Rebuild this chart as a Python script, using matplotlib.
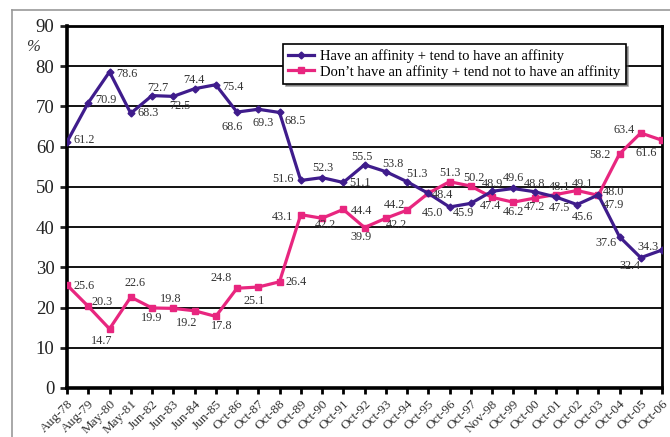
import matplotlib
matplotlib.use("Agg")
import matplotlib.pyplot as plt
from matplotlib.lines import Line2D

# survey dates (category axis)
dates = ["Aug-78", "Aug-79", "May-80", "May-81", "Jun-82", "Jun-83", "Jun-84",
         "Jun-85", "Oct-86", "Oct-87", "Oct-88", "Oct-89", "Oct-90", "Oct-91",
         "Oct-92", "Oct-93", "Oct-94", "Oct-95", "Oct-96", "Oct-97", "Nov-98",
         "Oct-99", "Oct-00", "Oct-01", "Oct-02", "Oct-03", "Oct-04", "Oct-05",
         "Oct-06"]

affinity = [61.2, 70.9, 78.6, 68.3, 72.7, 72.5, 74.4, 75.4, 68.6, 69.3, 68.5,
            51.6, 52.3, 51.1, 55.5, 53.8, 51.3, 48.4, 45.0, 45.9, 48.9, 49.6,
            48.8, 47.5, 45.6, 48.0, 37.6, 32.4, 34.3]
no_affinity = [25.6, 20.3, 14.7, 22.6, 19.9, 19.8, 19.2, 17.8, 24.8, 25.1, 26.4,
               43.1, 42.2, 44.4, 39.9, 42.2, 44.2, 48.4, 51.3, 50.2, 47.4, 46.2,
               47.2, 48.1, 49.1, 47.9, 58.2, 63.4, 61.6]

series_names = ["Have an affinity + tend to have an affinity",
                "Don\u2019t have an affinity + tend not to have an affinity"]

# label placement (pixel offsets of label centre, screen y down)
aff_offsets = [(17, -2), (18, -3), (17, 2), (17, 0), (6, -8), (7, 10), (-1, -9),
               (17, 2), (-5, 15), (5, 14), (16, 9), (-18, -1), (1, -10), (17, 1),
               (-3, -8), (7, -8), (10, -8), (14, 2), (-17, 6), (-7, 10), (0, -7),
               (0, -10), (0, -8), (4, 11), (5, 12), (15, -3), (-13, 6), (-11, 8),
               (-14, -3)]
no_offsets = [(17, 1), (14, -4), (-8, 12), (4, -14), (0, 10), (-3, -9), (-8, 12),
              (6, 10), (-16, -10), (-4, 14), (17, 0), (-18, 2), (3, 7), (18, 2),
              (-3, 9), (11, 7), (-13, -5), None, (0, -9), (3, -8), (-1, 9),
              (0, 10), (0, 9), (4, -8), (6, -7), (15, 10), (-20, 1), (-17, -3),
              (-16, 13)]

PURPLE = "#3f1c8c"
PINK = "#e8267f"
SERIF = ["Liberation Serif", "DejaVu Serif"]

plt.rcParams["font.family"] = SERIF

fig = plt.figure(figsize=(6.7, 4.37), dpi=100)
ax = fig.add_axes([67 / 670, 1 - 388 / 437, 595 / 670, 362 / 437])

x = list(range(len(dates)))
ax.plot(x, affinity, color=PURPLE, lw=2.3, marker="D", ms=3.5,
        label=series_names[0], zorder=4)
ax.plot(x, no_affinity, color=PINK, lw=2.3, marker="s", ms=4,
        label=series_names[1], zorder=3)

for vals, offs in ((affinity, aff_offsets), (no_affinity, no_offsets)):
    for i, v in enumerate(vals):
        if offs[i] is None:
            continue
        dx, dy = offs[i]
        ax.annotate(f"{v:.1f}", (i, v), xytext=(dx, -dy), textcoords="offset pixels",
                    ha="center", va="center", fontsize=8.8, color="#333333", zorder=5)

ax.set_xlim(0, len(dates) - 1)
ax.set_ylim(0, 90)
ax.set_yticks(range(0, 91, 10))
ax.set_xticks(x)
ax.set_xticklabels(dates, rotation=45, ha="right", rotation_mode="anchor",
                   fontsize=9.5, color="#333333")
ax.tick_params(axis="y", labelsize=13.5, colors="#222222", length=5, width=2, pad=4)
ax.tick_params(axis="x", length=4, width=2, pad=3)
ax.grid(axis="y", color="black", lw=1.3)
ax.set_axisbelow(True)
for side in ("left", "bottom"):
    ax.spines[side].set_linewidth(2.6)
for side in ("top", "right"):
    ax.spines[side].set_linewidth(2)

leg = ax.legend(loc="upper left", bbox_to_anchor=(0.363, 0.950), borderaxespad=0,
                fontsize=10.5, frameon=True, fancybox=False, shadow=True,
                handlelength=1.8, handletextpad=0.4, labelspacing=0.12,
                borderpad=0.35)
leg.get_frame().set_edgecolor("black")
leg.get_frame().set_linewidth(1.2)

fig.text(33 / 670, 1 - 47 / 437, "%", fontsize=12, color="#333333",
         ha="center", va="center", style="italic")

# outer frame of the original picture
fig.add_artist(Line2D([12 / 670, 1], [1 - 10 / 437] * 2, color="#999999", lw=1.2))
fig.add_artist(Line2D([12 / 670] * 2, [0, 1 - 10 / 437], color="#999999", lw=1.2))

fig.savefig("out.png", dpi=100)
